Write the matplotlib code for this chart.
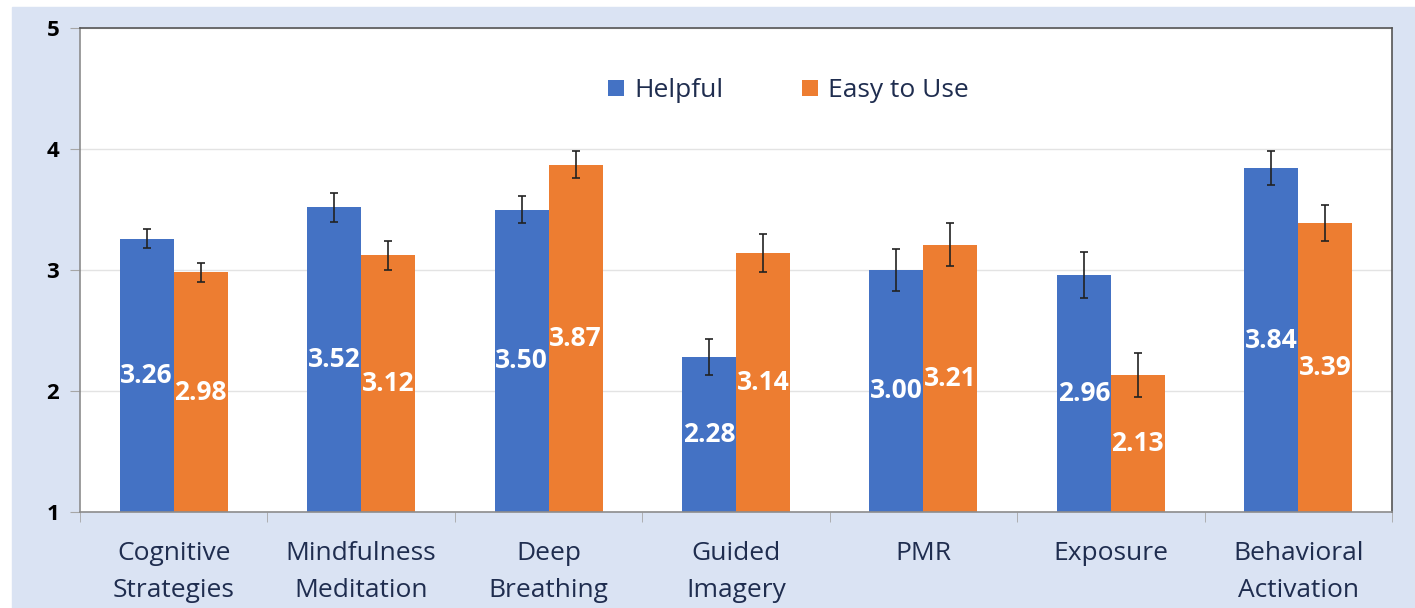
import numpy as np
import matplotlib
matplotlib.use('Agg')
import matplotlib.pyplot as plt
import matplotlib.patches as mpatches

# ── Data ──────────────────────────────────────────────────────────────────────
categories = ['Cognitive\nStrategies', 'Mindfulness\nMeditation', 'Deep\nBreathing',
              'Guided\nImagery', 'PMR', 'Exposure', 'Behavioral\nActivation']
helpful      = [3.26, 3.52, 3.50, 2.28, 3.00, 2.96, 3.84]
easy_to_use  = [2.98, 3.12, 3.87, 3.14, 3.21, 2.13, 3.39]
helpful_err  = [0.08, 0.12, 0.11, 0.15, 0.17, 0.19, 0.14]
easy_err     = [0.08, 0.12, 0.11, 0.16, 0.18, 0.18, 0.15]
yticks = [1, 2, 3, 4, 5]

# ── Colours ───────────────────────────────────────────────────────────────────
BLUE   = '#4472C4'
ORANGE = '#ED7D31'
BG     = '#DAE3F3'
NAVY   = '#1F2D4F'
GRID   = '#E3E3E3'

plt.rcParams['font.family'] = ['Open Sans', 'DejaVu Sans']

fig = plt.figure(figsize=(14.15, 6.08), dpi=100)
fig.patch.set_facecolor('white')
fig.patches.append(mpatches.Rectangle((12 / 1415, 0), 1, 1 - 7 / 608,
                                      transform=fig.transFigure, color=BG, zorder=-10))

ax = fig.add_axes([80 / 1415, 1 - 512 / 608, (1392 - 80) / 1415, (512 - 28) / 608])
ax.set_facecolor('white')

x = np.arange(len(categories))
w = 0.288
bottom = 1
h_vals = [v - bottom for v in helpful]
e_vals = [v - bottom for v in easy_to_use]
ax.bar(x - w / 2, h_vals, w, bottom=bottom, color=BLUE, zorder=2, label='Helpful')
ax.bar(x + w / 2, e_vals, w, bottom=bottom, color=ORANGE, zorder=2, label='Easy to Use')
ax.errorbar(x - w / 2, helpful, yerr=helpful_err, fmt='none', ecolor='#222222',
            elinewidth=1.2, capsize=3, capthick=1.2, zorder=3)
ax.errorbar(x + w / 2, easy_to_use, yerr=easy_err, fmt='none', ecolor='#222222',
            elinewidth=1.2, capsize=3, capthick=1.2, zorder=3)

for xi, v in zip(x - w / 2, helpful):
    ax.text(xi, (bottom + v) / 2, f'{v:.2f}', ha='center', va='center',
            color='white', fontsize=19, fontweight='bold', zorder=4)
for xi, v in zip(x + w / 2, easy_to_use):
    ax.text(xi, (bottom + v) / 2, f'{v:.2f}', ha='center', va='center',
            color='white', fontsize=19, fontweight='bold', zorder=4)

ax.set_xlim(-0.5, len(categories) - 0.5)
ax.set_ylim(1, 5)
ax.set_yticks(yticks)
ax.set_yticklabels([str(t) for t in yticks], fontsize=16, fontweight='bold', color='black')
ax.yaxis.grid(True, color=GRID, linewidth=1, zorder=0)
ax.set_axisbelow(True)

ax.set_xticks(x)
ax.set_xticklabels(categories, fontsize=19, color=NAVY, linespacing=1.6)
ax.tick_params(axis='x', length=0, pad=21)
ax.set_xticks(np.arange(-0.5, len(categories)), minor=True)
ax.tick_params(axis='x', which='minor', length=7, color='#A6A6A6')
ax.tick_params(axis='y', length=7, color='#A6A6A6', pad=8)

for s in ['left', 'bottom']:
    ax.spines[s].set_color('#8C8C8C')
    ax.spines[s].set_linewidth(1.2)
for s in ['top', 'right']:
    ax.spines[s].set_color('#555555')
    ax.spines[s].set_linewidth(1.2)

ax.legend(loc='center', bbox_to_anchor=(0.54, 0.87), ncol=2, frameon=False,
          fontsize=19, handlelength=0.6, handleheight=0.6, columnspacing=3.0,
          handletextpad=0.38, labelcolor=NAVY)

plt.savefig('out.png', dpi=100, facecolor=fig.get_facecolor())
